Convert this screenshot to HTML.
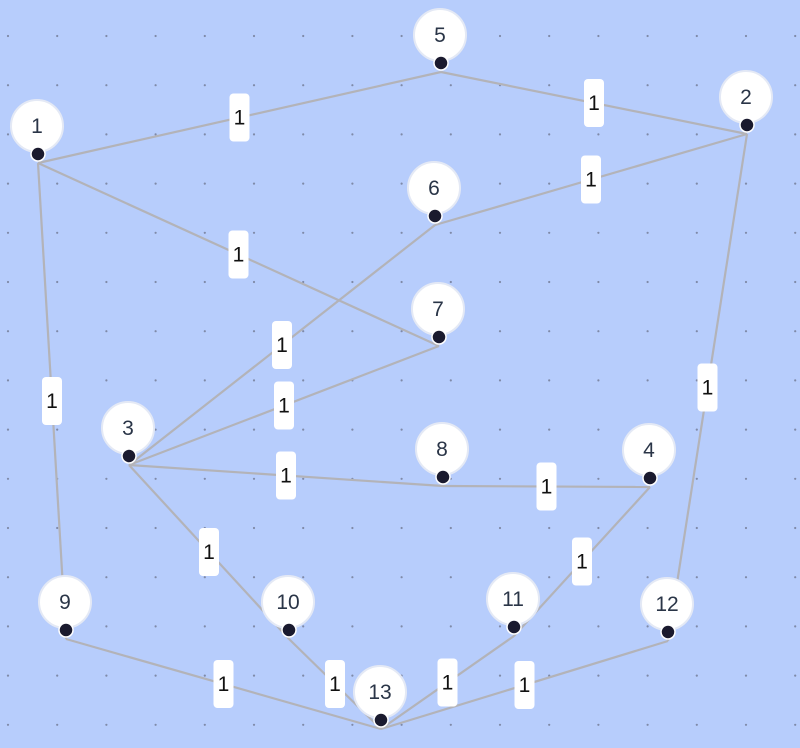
<!DOCTYPE html>
<html><head><meta charset="utf-8"><style>
html,body{margin:0;padding:0;background:#b7cdfc;}
svg{display:block;font-family:"Liberation Sans",sans-serif;}
</style></head><body>
<svg id="g" width="800" height="748">
<g id="grid"></g><g id="edges"></g><g id="labels"></g><g id="nodes"></g>
</svg>
<script>
const nodeIds=[1,2,3,4,5,6,7,8,9,10,11,12,13];
const nodeX=[38,747,129,650,441,435,439,443,66,289,514,668,381];
const nodeY=[154,125,456,478,63,216,337,477,630,630,627,632,720];
const edgeFrom=[1,5,2,1,6,7,3,8,1,2,3,4,9,10,11,12];
const edgeTo=[5,2,6,7,3,3,8,4,9,12,10,11,13,13,13,13];
const edgeWeights=[1,1,1,1,1,1,1,1,1,1,1,1,1,1,1,1];
const NS="http://www.w3.org/2000/svg";
function mk(t,a,p){const e=document.createElementNS(NS,t);for(const k in a)e.setAttribute(k,a[k]);p.appendChild(e);return e;}
const grid=document.getElementById('grid');
for(let x=8;x<800;x+=49.2)for(let y=36;y<748;y+=49.2){const d=mk('circle',{cx:x,cy:y,r:1.1,fill:'#7f8aa8'},grid);

}
const E=document.getElementById('edges'),L=document.getElementById('labels'),N=document.getElementById('nodes');
function px(id){return nodeX[nodeIds.indexOf(id)];}
function py(id){return nodeY[nodeIds.indexOf(id)]+9;}
edgeFrom.forEach((f,i)=>{const t=edgeTo[i];const x1=px(f),y1=py(f),x2=px(t),y2=py(t);
const l=mk('line',{x1,y1,x2,y2,stroke:'#b3b3b8','stroke-width':2.2},E);


const mx=(x1+x2)/2,my=(y1+y2)/2;const g=mk('g',{},L);


mk('rect',{x:mx-10,y:my-24,width:20,height:48,rx:4,fill:'#fff'},g);
const tx=mk('text',{x:mx,y:my+7,'text-anchor':'middle','font-size':21,fill:'#111'},g);tx.textContent=edgeWeights[i];});
nodeIds.forEach((id,i)=>{const g=mk('g',{},N);


const x=nodeX[i],y=nodeY[i];
mk('circle',{cx:x-1,cy:y-28,r:26,fill:'#fff',stroke:'#e4e9f5','stroke-width':2},g);
const t=mk('text',{x:x-1,y:y-21,'text-anchor':'middle','font-size':21,fill:'#2a3547'},g);t.textContent=id;
mk('circle',{cx:x,cy:y,r:7,fill:'#1a1a2e',stroke:'#fff','stroke-width':1.5},g);});
</script>
</body></html>
